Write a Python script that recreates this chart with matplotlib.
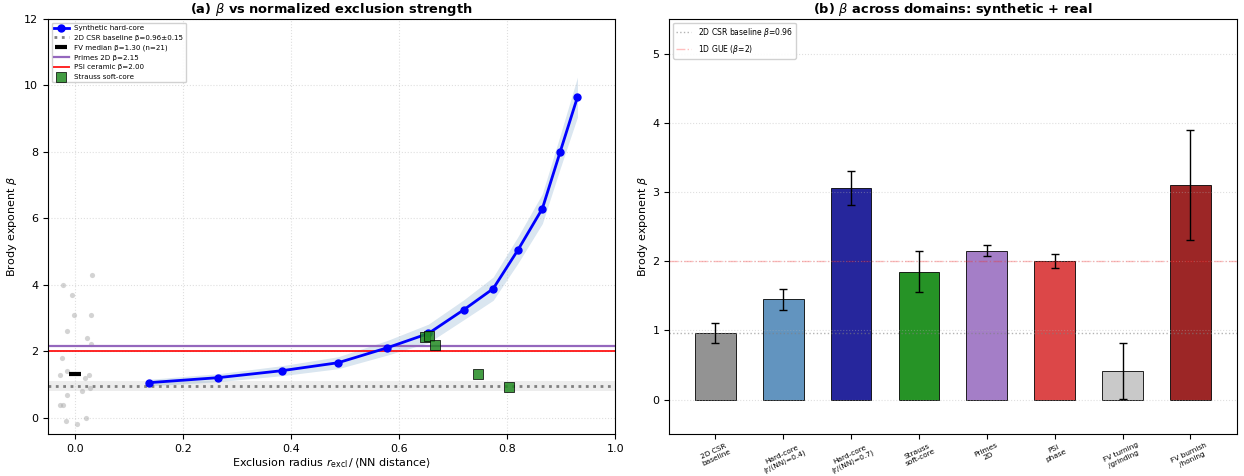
import numpy as np
import matplotlib
matplotlib.use("Agg")
import matplotlib.pyplot as plt

# ---- data: panel (a) ----
hc_r = [0.137, 0.265, 0.383, 0.487, 0.578, 0.654, 0.720, 0.774, 0.820, 0.865, 0.898, 0.930]
hc_beta = [1.05, 1.20, 1.41, 1.65, 2.10, 2.53, 3.25, 3.88, 5.05, 6.29, 8.00, 9.65]
hc_std = [0.10, 0.12, 0.15, 0.18, 0.22, 0.28, 0.30, 0.35, 0.40, 0.45, 0.50, 0.60]

strauss_r = [0.648, 0.655, 0.667, 0.746, 0.804]
strauss_beta = [2.41, 2.44, 2.17, 1.32, 0.93]

fv_x = [0.031, -0.022, -0.006, -0.001, 0.030, -0.015, 0.022, 0.030, -0.024, -0.014, -0.027,
        0.026, 0.018, 0.028, 0.013, -0.015, -0.028, -0.022, 0.020, -0.017, 0.003]
fv_beta = [4.29, 3.99, 3.69, 3.10, 3.10, 2.60, 2.40, 2.20, 1.80, 1.40, 1.29,
           1.29, 1.19, 0.89, 0.79, 0.69, 0.39, 0.39, 0.00, -0.11, -0.21]

csr_beta, csr_std = 0.96, 0.15
fv_median = 1.30
primes_beta = 2.15
psi_beta = 2.00

# ---- data: panel (b) ----
cats = ["2D CSR\nbaseline", "Hard-core\n(r/⟨NN⟩=0.4)", "Hard-core\n(r/⟨NN⟩=0.7)",
        "Strauss\nsoft-core", "Primes\n2D", "PSI\nphase", "FV turning\n/grinding",
        "FV burnish\n/honing"]
bar_vals = [0.96, 1.45, 3.06, 1.85, 2.15, 2.00, 0.41, 3.10]
bar_errs = [0.15, 0.15, 0.25, 0.30, 0.08, 0.10, 0.40, 0.80]
bar_colors = ["gray", "steelblue", "darkblue", "green", "tab:purple", "tab:red",
              "silver", "darkred"]

fig = plt.figure(figsize=(12.44, 4.76), dpi=100)
ax1 = fig.add_axes([0.0386, 0.088, 0.456, 0.872])
ax2 = fig.add_axes([0.538, 0.088, 0.456, 0.872])

# panel (a)
ax1.axhspan(csr_beta - csr_std, csr_beta + csr_std, color="lightgray", alpha=0.4, lw=0)
ax1.axhline(csr_beta, color="gray", ls=":", lw=2, label="2D CSR baseline β=0.96±0.15")
ax1.scatter(fv_x, fv_beta, s=14, color="darkgray", alpha=0.5, lw=0, zorder=2)
ax1.plot([0], [fv_median], marker="_", color="black", ms=9, mew=3, ls="none",
         label="FV median β=1.30 (n=21)", zorder=4)
ax1.axhline(primes_beta, color="tab:purple", lw=1.6, label="Primes 2D β=2.15")
ax1.axhline(psi_beta, color="red", lw=1.4, alpha=0.85, label="PSI ceramic β=2.00")
hc_r_a = np.array(hc_r); hc_b_a = np.array(hc_beta); hc_s_a = np.array(hc_std)
ax1.fill_between(hc_r_a, hc_b_a - hc_s_a, hc_b_a + hc_s_a, color="steelblue", alpha=0.2, lw=0)
ax1.plot(hc_r, hc_beta, "o-", color="blue", lw=2, ms=5, label="Synthetic hard-core", zorder=5)
ax1.scatter(strauss_r, strauss_beta, marker="s", s=45, color="forestgreen", edgecolor="black",
            linewidth=0.6, alpha=0.85, label="Strauss soft-core", zorder=6)

handles, labels = ax1.get_legend_handles_labels()
order = [labels.index(l) for l in ["Synthetic hard-core", "2D CSR baseline β=0.96±0.15",
                                   "FV median β=1.30 (n=21)", "Primes 2D β=2.15",
                                   "PSI ceramic β=2.00", "Strauss soft-core"]]
ax1.legend([handles[i] for i in order], [labels[i] for i in order], loc="upper left",
           fontsize=5.1, framealpha=0.9)
ax1.set_xlim(-0.05, 1.0)
ax1.set_ylim(-0.5, 12)
ax1.set_xlabel(r"Exclusion radius $r_{\rm excl}\,/\,$⟨NN distance⟩", fontsize=8, labelpad=2)
ax1.set_ylabel(r"Brody exponent $\beta$", fontsize=8)
ax1.set_title(r"(a) $\beta$ vs normalized exclusion strength", fontsize=9.4, fontweight="bold", pad=4)
ax1.grid(True, ls=":", alpha=0.4)
ax1.tick_params(labelsize=8)

# panel (b)
x = np.arange(len(cats))
ax2.bar(x, bar_vals, width=0.6, color=bar_colors, alpha=0.85, edgecolor="black", linewidth=0.7,
        yerr=bar_errs, capsize=3, error_kw=dict(ecolor="black", elinewidth=1, capthick=1))
ax2.axhline(csr_beta, color="gray", ls=":", lw=1, alpha=0.6, label=r"2D CSR baseline $\beta$=0.96")
ax2.axhline(2.0, color="red", ls="-.", lw=1, alpha=0.25, label=r"1D GUE ($\beta$=2)")
ax2.legend(loc="upper left", fontsize=5.5, framealpha=0.9)
ax2.set_xticks(x)
ax2.set_xticklabels(cats, rotation=25, fontsize=5.3, ha="center")
ax2.tick_params(axis="x", pad=2)
ax2.set_ylim(-0.5, 5.5)
ax2.set_ylabel(r"Brody exponent $\beta$", fontsize=8, labelpad=2)
ax2.set_title(r"(b) $\beta$ across domains: synthetic + real", fontsize=9.4, fontweight="bold", pad=4)
ax2.grid(True, axis="y", ls=":", alpha=0.4)
ax2.tick_params(axis="y", labelsize=8)

fig.savefig("out.png", dpi=100)
